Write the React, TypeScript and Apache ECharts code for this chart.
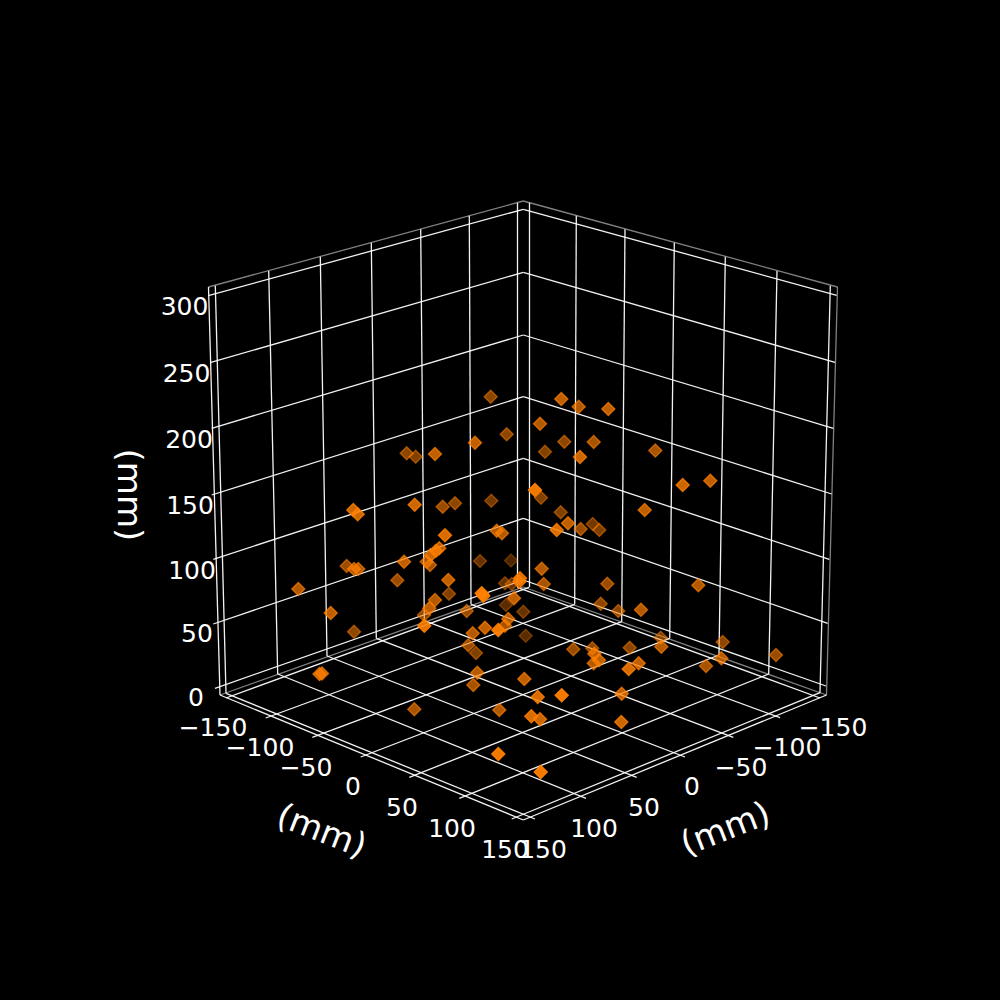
import React, { useEffect, useRef } from "react";
import * as echarts from "echarts";

type P = [number, number];

const zTickLabels = ["0", "50", "100", "150", "200", "250", "300"];
const zLabelPos: P[] = [[196, 697.5], [197, 633.5], [192, 570.5], [190, 505.5], [189, 439.5], [186.5, 373.5], [184.5, 306.5]];
const zGridLeft: P[] = [[215, 688.3], [213.3, 624], [213.3, 559.3], [211.7, 495], [211.7, 428.3], [210, 362.7], [208.3, 295.7]];
const zGridBack: P[] = [[523.3, 580], [523.3, 518.3], [523.3, 458.3], [523.3, 396.7], [523.3, 335], [523.3, 272.3], [523.3, 209.3]];
const zGridRight: P[] = [[826, 686], [827.7, 623.3], [829.3, 559.3], [831.7, 494], [833.3, 428.3], [835, 362.3], [836.7, 295.3]];

const floorTickLabels = ["\u2212150", "\u2212100", "\u221250", "0", "50", "100", "150"];
const leftLabelPos: P[] = [[213, 727.5], [260, 747.5], [306, 767.5], [353, 786.5], [402, 807.5], [452, 828.5], [505, 849.5]];
const rightLabelPos: P[] = [[833, 727.5], [787, 747.5], [741, 767.5], [692, 786.5], [644, 807.5], [594, 828.5], [543, 849.5]];

// Left wall verticals, right wall verticals (bottom and top)
const leftWallTop: P[] = [[215.3, 285.7], [268.7, 271], [320.3, 256.7], [371.3, 242.7], [420.7, 229.3], [469.3, 215.7], [517.3, 202.7]];
const leftWallBottom: P[] = [[226, 693.3], [277.7, 674], [327, 656], [376.3, 638.3], [424.3, 620.7], [471, 604.3], [517.3, 587.3]];
const rightWallTop: P[] = [[529, 202.7], [576.3, 215.7], [625, 229.3], [674.3, 242.7], [725.3, 256.7], [777, 271], [830.3, 285.7]];
const rightWallBottom: P[] = [[529, 587.3], [574.7, 604.3], [621.7, 621.7], [669.7, 638.3], [719, 655], [768.7, 674], [820, 692.7]];
// Tick ends on the two front floor edges
const frontLeftTicks: P[] = [[226, 698], [265.7, 718], [312.3, 737.3], [360.7, 757], [409.3, 777.3], [459.3, 798.3], [511.7, 819]];
const frontRightTicks: P[] = [[535, 819], [586, 798.3], [636.7, 777.3], [685, 757], [733.3, 737.3], [780, 717.7], [820, 698]];

// Box outline
const paneTopLeft: P = [208.5, 287];
const paneTopBack: P = [523.3, 201];
const paneTopRight: P = [837.5, 287];
const paneBottomLeft: P = [220, 695];
const paneBottomBack: P = [523.3, 587];
const paneBottomRight: P = [826.5, 695];
const floorFront: P = [523.3, 820];

// [x, y, opacity] of each marker
const markers: [number, number, number][] = [
  [490.7, 396.7, 0.55], [506.7, 434.3, 0.55], [475, 442.7, 0.75], [406.7, 453.3, 0.55], [415.7, 456.7, 0.5], [435, 454, 0.75],
  [561.3, 399, 0.75], [578.7, 406.7, 0.7], [608.3, 409, 0.75], [540, 423.7, 0.7], [564.3, 441.7, 0.55], [593.7, 442, 0.65],
  [545, 451.7, 0.5], [580, 457, 0.8], [655.3, 450.5, 0.65], [682.7, 485, 0.8], [710.3, 480.7, 0.75], [535, 490, 0.95],
  [541, 497.7, 0.5], [644.7, 510, 0.75], [560.7, 512.3, 0.5], [568, 523.3, 0.75], [592.7, 524, 0.45], [599.3, 530, 0.5],
  [580.7, 529, 0.6], [556.7, 530, 0.85], [511, 560.5, 0.3], [541.7, 568.7, 0.7], [607.3, 583.7, 0.6], [543.7, 584, 0.65],
  [520, 578.3, 0.85], [519.3, 581.7, 0.8], [698.3, 585.3, 0.7], [514, 598.3, 0.75], [600.7, 603.7, 0.55], [618.3, 611, 0.55],
  [641, 609.7, 0.7], [523.3, 611.7, 0.4], [525.7, 635.7, 0.35], [660.7, 637.7, 0.5], [661.3, 646.7, 0.7], [722.7, 642, 0.55],
  [776, 655, 0.6], [573.3, 649.3, 0.6], [592.3, 648.3, 0.55], [629.7, 647.7, 0.55], [594.3, 653.7, 0.75], [599, 660.3, 0.75],
  [593.7, 663.3, 0.7], [638.7, 663.3, 0.75], [628.7, 669, 0.85], [706, 666, 0.65], [721.3, 658.3, 0.7], [524.3, 679, 0.75],
  [537.7, 697, 0.85], [561.7, 695.3, 0.95], [621.7, 693.7, 0.75], [531.3, 716.3, 0.85], [540, 719.3, 0.8], [621.3, 722, 0.8],
  [540.7, 772, 0.95], [353.3, 510, 0.8], [357.7, 514.3, 0.8], [414.7, 504.7, 0.8], [442.7, 506.7, 0.6], [455, 503.3, 0.55],
  [491.3, 500.7, 0.45], [445, 535.3, 0.85], [496.7, 530.7, 0.7], [502, 533.3, 0.7], [439.3, 548.3, 0.75], [436, 550.7, 0.75],
  [430.7, 555, 0.8], [426.7, 561.7, 0.65], [430, 565, 0.65], [404, 561.7, 0.75], [346.7, 566, 0.6], [354, 569, 0.7],
  [358.3, 569, 0.7], [480, 561, 0.4], [397.3, 580.3, 0.6], [448.3, 580, 0.75], [449, 593.7, 0.5], [298.3, 589, 0.7],
  [330.7, 613, 0.75], [354, 631.7, 0.55], [481.7, 593.3, 0.95], [483.3, 595.7, 0.95], [505, 583.3, 0.4], [511.7, 584, 0.4],
  [506, 605, 0.35], [435, 600, 0.7], [429.3, 608.3, 0.75], [424, 615, 0.55], [424.3, 625.7, 0.9], [466.7, 611, 0.6],
  [472.7, 633.3, 0.7], [485, 627.7, 0.75], [498.3, 630, 0.95], [505, 625.7, 0.65], [508.3, 619, 0.7], [468.3, 645.3, 0.6],
  [476, 653, 0.5], [477.3, 672.7, 0.7], [473.3, 685, 0.65], [319.5, 674, 0.75], [322, 673.5, 0.75], [414.3, 709.3, 0.65],
  [499.3, 710, 0.7], [498.3, 754, 0.95],
];

const axisLabelText = "(mm)";
const font = "DejaVu Sans";
const pair = (a: P, b: P) => ({ coords: [a, b] });

const gridSegments = [
  ...zGridLeft.map((p, i) => pair(p, zGridBack[i])),
  ...zGridBack.map((p, i) => pair(p, zGridRight[i])),
  ...leftWallTop.map((p, i) => pair(p, leftWallBottom[i])),
  ...rightWallTop.map((p, i) => pair(p, rightWallBottom[i])),
  ...leftWallBottom.map((p, i) => pair(p, frontRightTicks[i])),
  ...rightWallBottom.map((p, i) => pair(p, frontLeftTicks[i])),
  pair(paneBottomLeft, floorFront),
  pair(floorFront, paneBottomRight),
  pair(paneTopLeft, paneBottomLeft),
];
const paneSegments = [
  pair(paneTopLeft, paneTopBack),
  pair(paneTopBack, paneTopRight),
  pair(paneTopRight, paneBottomRight),
  pair(paneBottomLeft, paneBottomBack),
  pair(paneBottomBack, paneBottomRight),
];

const tickText = (text: string, p: P) => ({
  type: "text",
  x: p[0],
  y: p[1],
  style: { text, fill: "#ffffff", font: `25px '${font}'`, align: "center", verticalAlign: "middle" },
});
const titleText = (p: P, rotation: number) => ({
  type: "text",
  x: p[0],
  y: p[1],
  rotation,
  style: { text: axisLabelText, fill: "#ffffff", font: `34px '${font}'`, align: "center", verticalAlign: "middle" },
});

export default function App() {
  const ref = useRef<HTMLDivElement>(null);
  useEffect(() => {
    const chart = echarts.init(ref.current!, undefined, { renderer: "svg" });
    chart.setOption({
      animation: false,
      backgroundColor: "#000000",
      grid: { left: 0, right: 0, top: 0, bottom: 0 },
      xAxis: { type: "value", min: 0, max: 1000, show: false },
      yAxis: { type: "value", min: 0, max: 1000, inverse: true, show: false },
      series: [
        {
          type: "lines",
          coordinateSystem: "cartesian2d",
          silent: true,
          z: 1,
          symbol: "none",
          lineStyle: { color: "#ffffff", width: 1.3, opacity: 0.5 },
          data: paneSegments,
        },
        {
          type: "lines",
          coordinateSystem: "cartesian2d",
          silent: true,
          z: 2,
          symbol: "none",
          lineStyle: { color: "#ffffff", width: 1.3, opacity: 0.95 },
          data: gridSegments,
        },
        {
          type: "scatter",
          silent: true,
          z: 3,
          symbol: "diamond",
          symbolSize: 13,
          data: markers.map((m) => ({
            value: [m[0], m[1]],
            itemStyle: { color: "#ff7f00", borderColor: "#ff7f00", borderWidth: 1.4, opacity: m[2] },
          })),
        },
      ],
      graphic: {
        elements: [
          ...zTickLabels.map((t, i) => tickText(t, zLabelPos[i])),
          ...floorTickLabels.map((t, i) => tickText(t, leftLabelPos[i])),
          ...floorTickLabels.map((t, i) => tickText(t, rightLabelPos[i])),
          titleText([322, 830], -0.37),
          titleText([725, 828], 0.37),
          titleText([130, 495], -Math.PI / 2),
        ],
      },
    });
    return () => chart.dispose();
  }, []);
  return <div ref={ref} style={{ position: "absolute", left: 0, top: 0, width: 1000, height: 1000 }} />;
}
